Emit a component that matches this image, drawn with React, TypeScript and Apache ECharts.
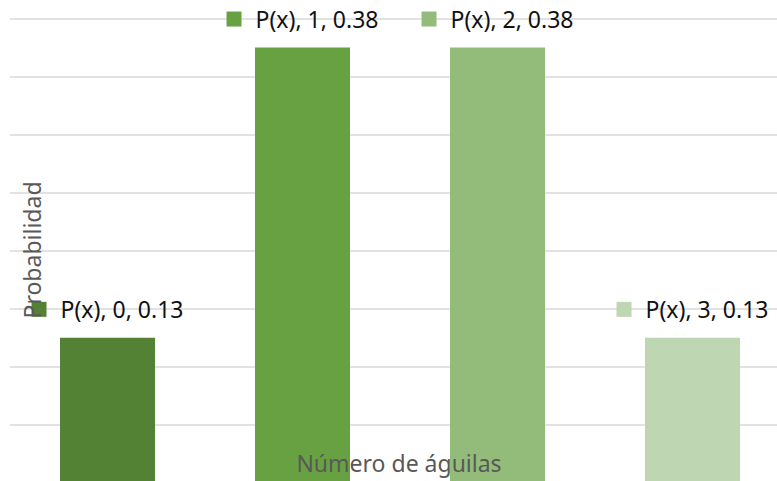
import React, { useEffect, useRef } from "react";
import * as echarts from "echarts";

const categories = ["0", "1", "2", "3"];
const seriesName = "P(x)";
const probabilities = [0.125, 0.375, 0.375, 0.125];
const barColors = ["#548235", "#68a141", "#93bc7b", "#bfd6b2"];
const yTitle = "Probabilidad";
const xTitle = "Número de águilas";

export default function App() {
  const ref = useRef<HTMLDivElement>(null);
  useEffect(() => {
    if (!ref.current) return;
    const chart = echarts.init(ref.current, undefined, { renderer: "svg" });
    const font = "'Noto Sans', 'Open Sans', sans-serif";
    const rich: Record<string, any> = {
      t: { fontSize: 23, color: "#111111", fontFamily: font, padding: [0, 0, 0, 14] },
    };
    barColors.forEach((c, i) => {
      rich["sq" + i] = { width: 15, height: 15, backgroundColor: c };
    });
    chart.setOption({
      animation: false,
      grid: { left: 10, right: 0, top: 18.5, bottom: 7, containLabel: false, outerBoundsMode: "none" },
      xAxis: {
        type: "category",
        data: categories,
        axisLine: { show: false },
        axisTick: { show: false },
        axisLabel: { show: false },
      },
      yAxis: {
        type: "value",
        min: 0,
        max: 0.4,
        interval: 0.05,
        axisLabel: { show: false },
        axisLine: { show: false },
        axisTick: { show: false },
        splitLine: { lineStyle: { color: "#d9d9d9", width: 1.5 } },
      },
      series: [
        {
          type: "bar",
          name: seriesName,
          barWidth: 95,
          data: probabilities.map((v, i) => ({ value: v, itemStyle: { color: barColors[i] } })),
          label: {
            show: true,
            position: "top",
            distance: 17,
            formatter: (p: any) =>
              `{sq${p.dataIndex}|}{t|${seriesName}, ${categories[p.dataIndex]}, ${Number(p.value).toFixed(2)}}`,
            rich,
          },
        },
      ],
      graphic: [
        {
          type: "text",
          x: 32,
          y: 250,
          rotation: Math.PI / 2,
          z: 100,
          style: {
            text: yTitle,
            fill: "#595959",
            fontSize: 23,
            fontFamily: font,
            align: "center",
            verticalAlign: "middle",
          },
        },
        {
          type: "text",
          x: 399,
          y: 463,
          z: 100,
          style: {
            text: xTitle,
            fill: "#595959",
            fontSize: 23,
            fontFamily: font,
            align: "center",
            verticalAlign: "middle",
          },
        },
      ],
    });
    return () => chart.dispose();
  }, []);
  return (
    <div style={{ position: "absolute", left: 0, top: 0, width: 777, height: 481, background: "#fff", overflow: "hidden" }}>
      <div ref={ref} style={{ position: "absolute", left: 0, top: 0, width: 790, height: 490 }} />
    </div>
  );
}
